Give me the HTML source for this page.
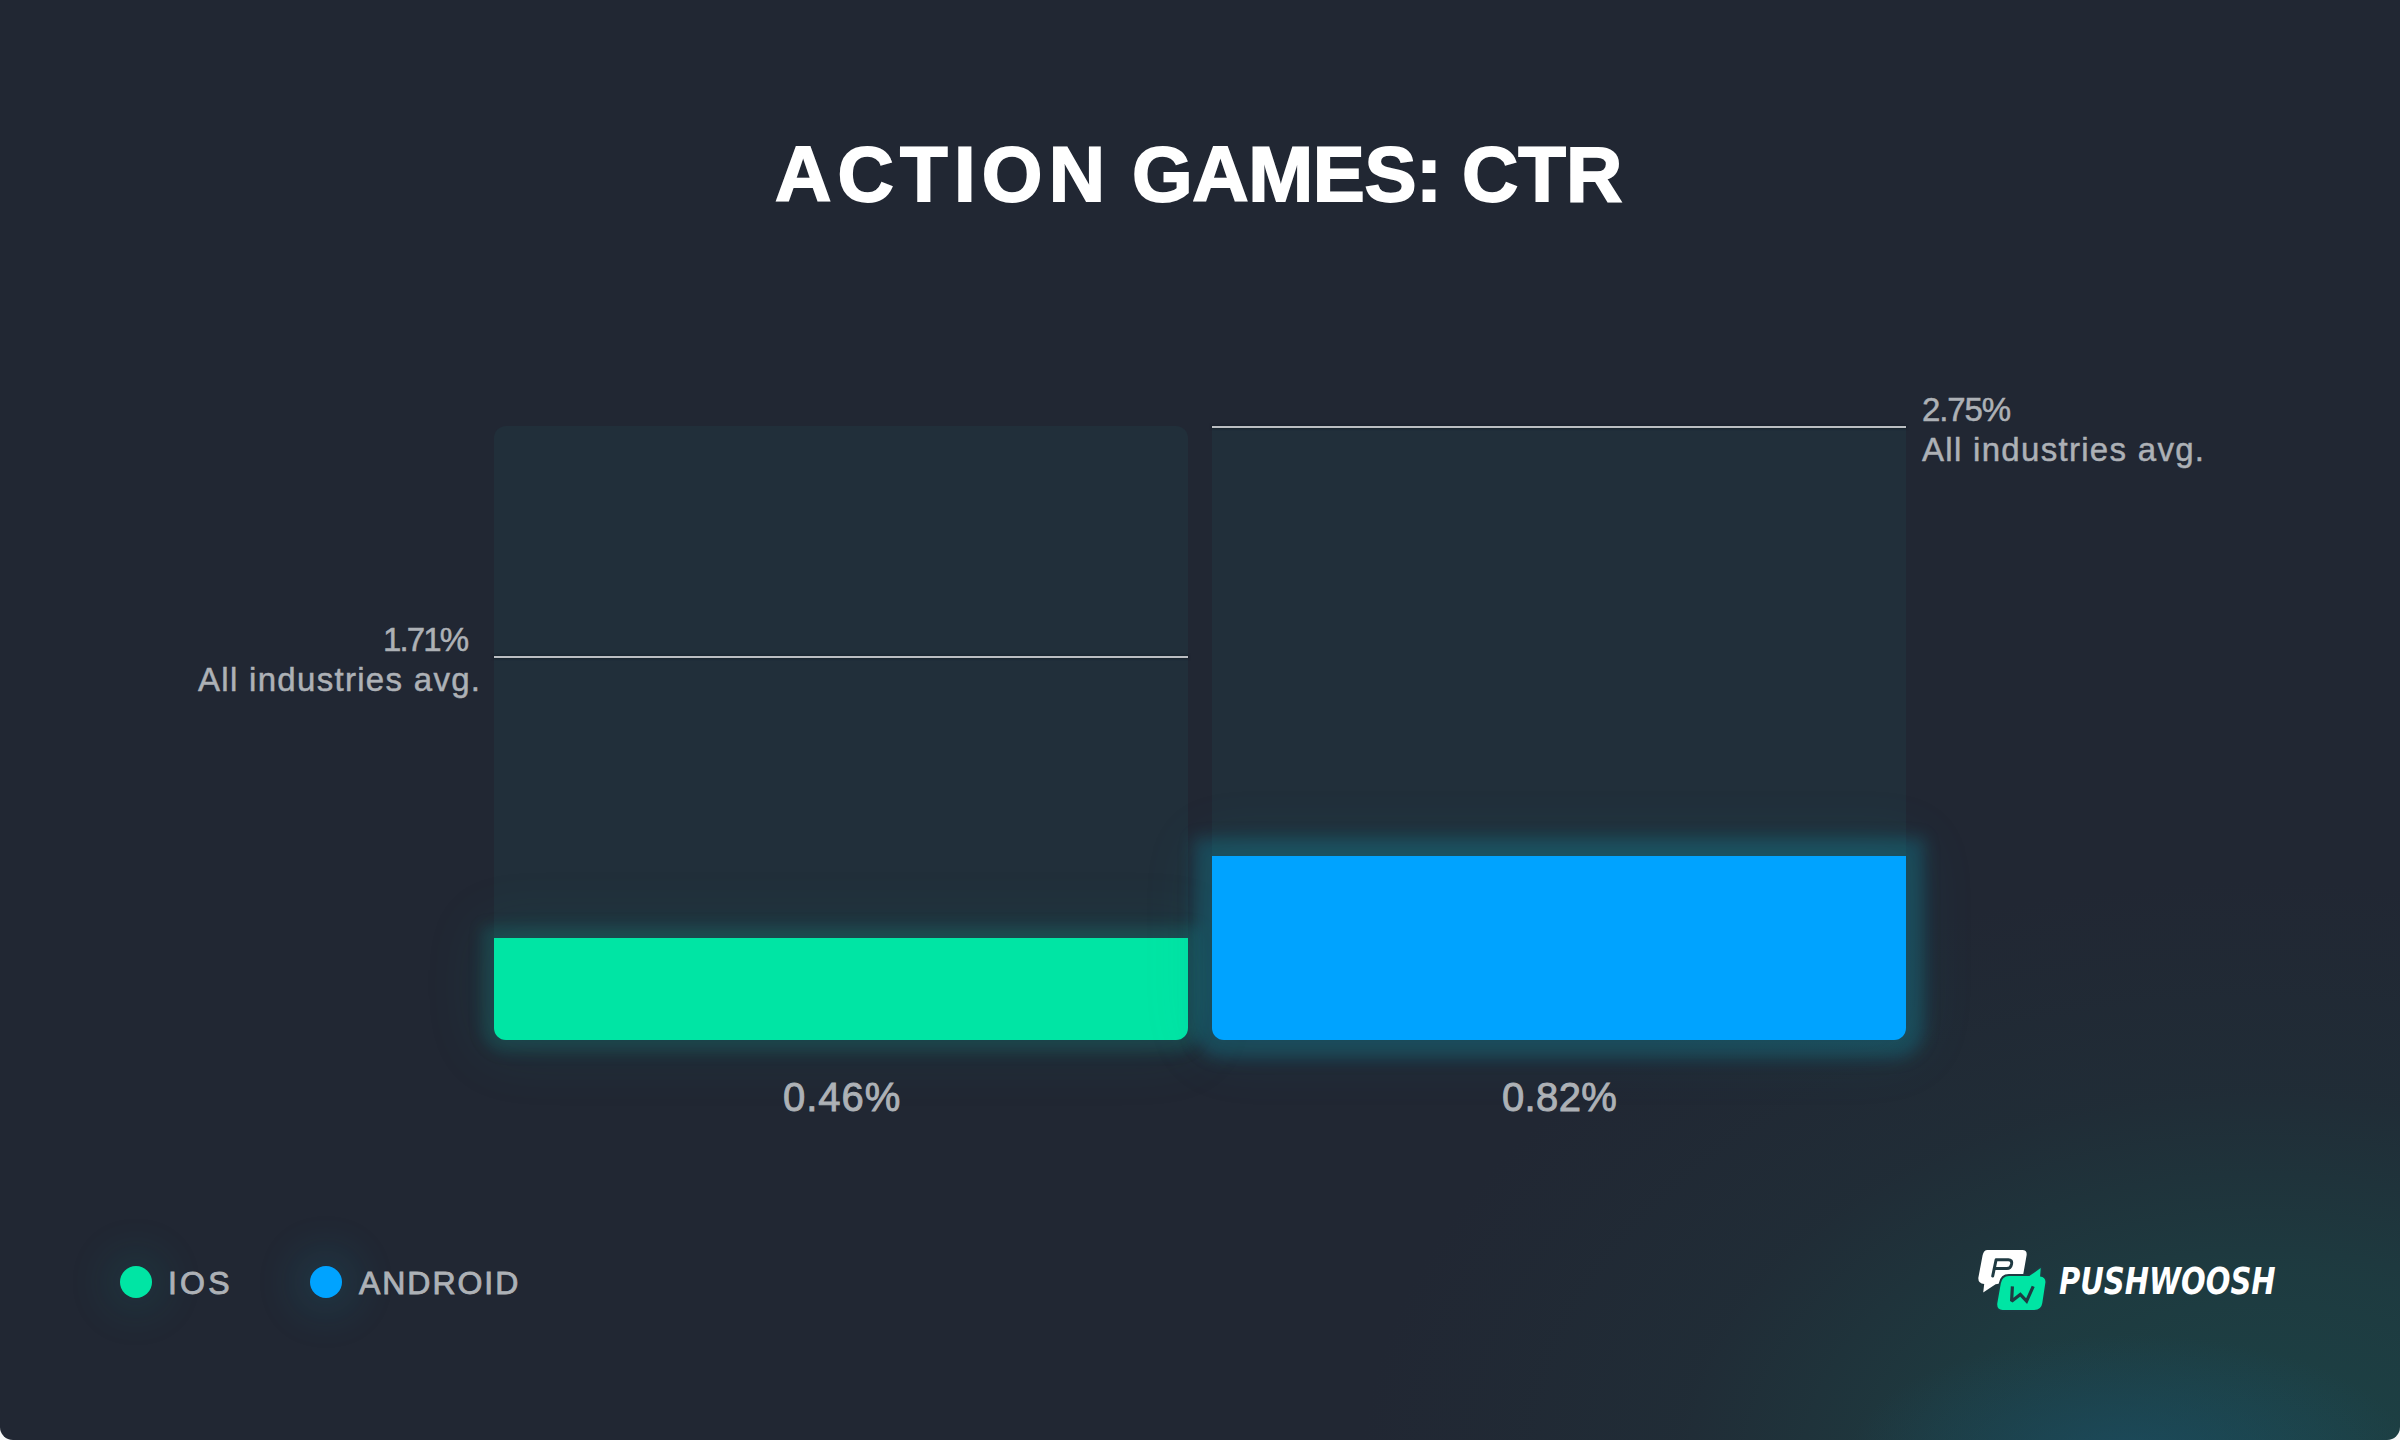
<!DOCTYPE html>
<html>
<head>
<meta charset="utf-8">
<style>
html,body{margin:0;padding:0;}
body{width:2400px;height:1440px;background:#f6f7f7;overflow:hidden;position:relative;font-family:"Liberation Sans",sans-serif;}
#card{position:absolute;left:0;top:0;width:2400px;height:1440px;border-radius:0 0 13px 13px;overflow:hidden;
  background:
   radial-gradient(280px 120px at 2130px 1455px, rgba(27,78,100,0.7), rgba(27,78,100,0) 100%),
   radial-gradient(900px 600px at 2260px 1480px, rgba(28,67,70,1) 0%, rgba(29,63,67,0.82) 35%, rgba(31,53,60,0.38) 65%, rgba(33,39,51,0) 100%),
   #212733;}
.t{position:absolute;white-space:nowrap;line-height:1;}
.tw{top:135px;font-size:78px;font-weight:bold;color:#fff;-webkit-text-stroke:1.8px #fff;}
.barbg{position:absolute;background:#212f3a;}
#bg1{left:494px;top:426px;width:694px;height:614px;border-radius:12px;}
#bg2{left:1212px;top:428px;width:694px;height:612px;border-radius:0 0 12px 12px;}
.line{position:absolute;height:2px;background:#bbbec2;box-shadow:0 0 2px 1px rgba(20,30,40,0.6);}
#l1{left:494px;top:656px;width:694px;}
#l2{left:1212px;top:426px;width:694px;}
.bar{position:absolute;border-radius:0 0 12px 12px;}
#b1{left:494px;top:938px;width:694px;height:102px;background:#00e5a4;box-shadow:0 0 14px 12px rgba(18,154,146,0.21),0 0 60px 14px rgba(18,154,146,0.1);}
#b2{left:1212px;top:856px;width:694px;height:184px;background:#00a3ff;box-shadow:0 0 16px 18px rgba(17,163,187,0.26),0 0 60px 16px rgba(17,163,187,0.09);}
.lab{color:#adb1b6;font-size:33px;letter-spacing:1.3px;-webkit-text-stroke:0.5px #adb1b6;}
.val{color:#adb1b6;font-size:40px;-webkit-text-stroke:0.9px #adb1b6;}
.dot{position:absolute;width:32px;height:32px;border-radius:50%;}
.leg{color:#adb1b6;font-size:32px;letter-spacing:2.1px;-webkit-text-stroke:0.9px #adb1b6;}
</style>
</head>
<body>
<div id="card">
  <div class="t tw" style="left:775px;letter-spacing:6.2px;">ACTION</div>
  <div class="t tw" style="left:1132px;letter-spacing:-0.4px;">GAMES:</div>
  <div class="t tw" style="left:1462px;">CTR</div>

  <div class="barbg" id="bg1"></div>
  <div class="barbg" id="bg2"></div>
  <div class="bar" id="b1"></div>
  <div class="bar" id="b2"></div>
  <div class="line" id="l1"></div>
  <div class="line" id="l2"></div>

  <div class="t lab" id="p1" style="left:383px;top:623px;letter-spacing:-1.9px;">1.71%</div>
  <div class="t lab" id="a1" style="left:198px;top:663px;">All industries avg.</div>
  <div class="t lab" id="p2" style="left:1922px;top:393px;letter-spacing:-1.1px;">2.75%</div>
  <div class="t lab" id="a2" style="left:1922px;top:433px;">All industries avg.</div>

  <div class="t val" id="v1" style="left:783px;top:1076.5px;letter-spacing:1px;">0.46%</div>
  <div class="t val" id="v2" style="left:1502px;top:1076.5px;letter-spacing:0.35px;">0.82%</div>

  <div class="dot" style="left:120px;top:1266px;background:#00e5a4;box-shadow:0 0 44px 14px rgba(18,154,146,0.12);"></div>
  <div class="t leg" id="ios" style="left:168px;top:1267px;letter-spacing:3.2px;">IOS</div>
  <div class="dot" style="left:310px;top:1266px;background:#00a3ff;box-shadow:0 0 44px 14px rgba(17,163,187,0.15);"></div>
  <div class="t leg" id="andr" style="left:359px;top:1267px;letter-spacing:1.95px;">ANDROID</div>

  <svg id="logo" style="position:absolute;left:1970px;top:1245px;" width="80" height="70" viewBox="0 0 80 70">
    <path d="M17.5 4.9 L52.3 4.9 Q57.3 4.9 56.6 10.2 L53.2 29.6 L30 38.6 L25.6 39.2 L13.2 47.6 L14.2 39 Q8.2 38.4 8.3 33 L12.6 10.2 Q13.8 4.9 17.5 4.9 Z" fill="#ffffff"/>
    <path d="M22.7 31 L26.1 14.7 L38.4 14.7 Q42.2 14.7 41.6 18.6 L41.3 20 Q40.6 23.6 36.9 23.6 L24.3 23.6" fill="none" stroke="#1f3a42" stroke-width="3" stroke-linejoin="round" stroke-linecap="round"/>
    <path d="M38.9 31.1 L59.3 31.1 L70.7 23.1 L70.1 31.6 Q75.9 32.4 75.4 37.6 L72.3 58 Q71.3 64.9 64.2 64.9 L32.6 64.9 Q26.6 64.9 27.3 58.2 L30.8 38.6 Q32.2 31.1 38.9 31.1 Z" fill="#00e5a4" stroke="#1f3a42" stroke-width="4" paint-order="stroke" stroke-linejoin="round"/>
    <path d="M42.4 41.3 L41.6 56.2 L50.3 49.4 L56.6 56.2 L63.2 41.3" fill="none" stroke="#1f3a42" stroke-width="3.2" stroke-linejoin="miter" stroke-miterlimit="2.2"/>
  </svg>
  <div class="t" id="pw" style="left:2059px;top:1263px;font-family:'DejaVu Sans',sans-serif;font-weight:bold;font-style:italic;font-stretch:condensed;font-size:37px;color:#fff;transform:scaleX(0.872);transform-origin:0 0;">PUSHWOOSH</div>
</div>
</body>
</html>
